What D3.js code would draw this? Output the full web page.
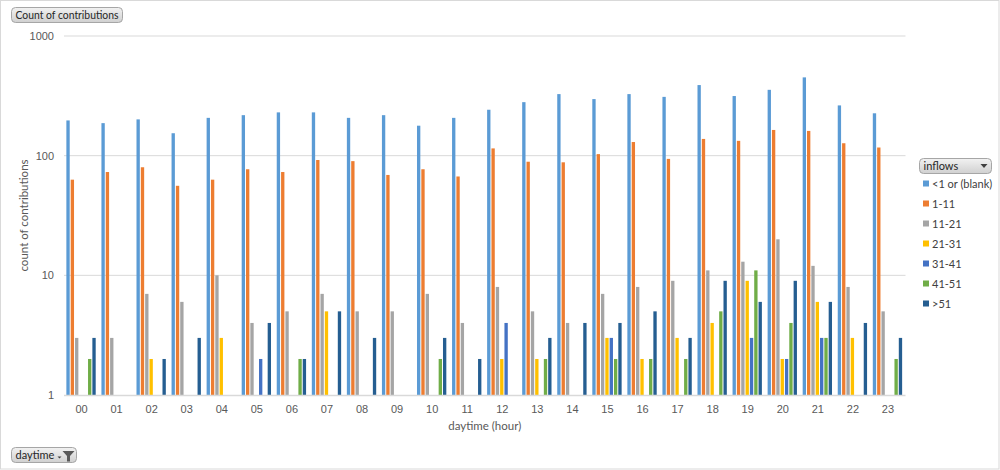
<!DOCTYPE html>
<html>
<head>
<meta charset="utf-8">
<script src="https://cdn.jsdelivr.net/npm/d3@7"></script>
<style>
  body { margin: 0; background: #fff; }
  svg { display: block; font-family: Lato, "Open Sans", sans-serif; }
</style>
</head>
<body>
<div id="chart"></div>
<script>
// categories (hour of day)
const hours = ["00","01","02","03","04","05","06","07","08","09","10","11",
               "12","13","14","15","16","17","18","19","20","21","22","23"];

// series names, one per inflow bucket
const seriesNames = ["<1 or (blank)", "1-11", "11-21", "21-31", "31-41", "41-51", ">51"];
const seriesColors = ["#5b9bd5", "#ed7d31", "#a5a5a5", "#ffc000", "#4472c4", "#70ad47", "#255e91"];

// values (null = no bar)
const lt1   = [197,187,201,154,207,218,230,230,207,218,178,207,242,280,327,297,327,310,389,315,355,451,263,226];
const in1   = [63,73,80,56,63,77,73,92,90,69,77,67,115,89,88,103,130,94,138,133,164,161,127,117];
const in11  = [3,3,7,6,10,4,5,7,5,5,7,4,8,5,4,7,8,9,11,13,20,12,8,5];
const in21  = [null,null,2,null,3,null,null,5,null,null,null,null,2,2,null,3,2,3,4,9,2,6,3,null];
const in31  = [null,null,null,null,null,2,null,null,null,null,null,null,4,null,null,3,null,null,null,3,2,3,null,null];
const in41  = [2,null,null,null,null,null,2,null,null,null,2,null,null,2,null,2,2,2,5,11,4,3,null,2];
const gt51  = [3,null,2,3,null,4,2,5,3,null,3,2,null,3,4,4,5,3,9,6,9,6,4,3];

const seriesValues = [lt1, in1, in11, in21, in31, in41, gt51];
const yTicks = [1, 10, 100, 1000];

const width = 1000, height = 470;
const margin = { top: 36, right: 94.5, bottom: 75, left: 64 };

const svg = d3.select("#chart").append("svg")
  .attr("width", width)
  .attr("height", height);

// outer frame
svg.append("rect")
  .attr("x", 0.5).attr("y", 0.5)
  .attr("width", width - 1.5).attr("height", height - 1.5)
  .attr("fill", "#fff").attr("stroke", "#d9d9d9");

const x0 = d3.scaleBand()
  .domain(hours)
  .range([margin.left, width - margin.right])
  .paddingInner(0.135)
  .paddingOuter(0.0675);

const x1 = d3.scaleBand()
  .domain(d3.range(seriesNames.length))
  .range([0, x0.bandwidth()]);

const y = d3.scaleLog()
  .domain([1, 1000])
  .range([height - margin.bottom, margin.top]);

// gridlines
svg.append("g")
  .selectAll("line")
  .data(yTicks.slice(1))
  .enter().append("line")
    .attr("x1", margin.left)
    .attr("x2", width - margin.right)
    .attr("y1", d => y(d))
    .attr("y2", d => y(d))
    .attr("stroke", "#d9d9d9")
    .attr("stroke-width", 1);

// bars
const groups = svg.append("g")
  .selectAll("g")
  .data(seriesValues)
  .enter().append("g")
    .attr("fill", (d, i) => seriesColors[i]);

groups.each(function(vals, si) {
  d3.select(this).selectAll("rect")
    .data(vals.map((v, hi) => ({ h: hours[hi], v: v })).filter(d => d.v != null && d.v > 1))
    .enter().append("rect")
      .attr("x", d => x0(d.h) + x1(si))
      .attr("y", d => y(d.v))
      .attr("width", x1.bandwidth() - 1)
      .attr("height", d => y(1) - y(d.v));
});

// x axis line
svg.append("line")
  .attr("x1", margin.left)
  .attr("x2", width - margin.right)
  .attr("y1", y(1) + 0.5)
  .attr("y2", y(1) + 0.5)
  .attr("stroke", "#d9d9d9")
  .attr("stroke-width", 1.5);

// x axis
const xAxis = svg.append("g")
  .attr("transform", `translate(0, ${y(1)})`)
  .call(d3.axisBottom(x0).tickSize(0).tickPadding(8));
xAxis.select(".domain").remove();
xAxis.selectAll("text")
  .attr("fill", "#595959")
  .style("font-size", "11px")
  .attr("dy", "0.9em");

// y axis
const yAxis = svg.append("g")
  .attr("transform", `translate(${margin.left}, 0)`)
  .call(d3.axisLeft(y).tickValues(yTicks).tickFormat(d3.format("d")).tickSize(0).tickPadding(10));
yAxis.select(".domain").remove();
yAxis.selectAll("text")
  .attr("fill", "#595959")
  .style("font-size", "11px");

// axis titles
svg.append("text")
  .attr("x", (margin.left + width - margin.right) / 2)
  .attr("y", 430)
  .attr("text-anchor", "middle")
  .attr("fill", "#595959")
  .style("font-size", "11.5px")
  .text("daytime (hour)");

svg.append("text")
  .attr("transform", `translate(28, ${(margin.top + height - margin.bottom) / 2}) rotate(-90)`)
  .attr("text-anchor", "middle")
  .attr("fill", "#595959")
  .style("font-size", "11.5px")
  .text("count of contributions");

// pivot field buttons
const defs = svg.append("defs");
const grad = defs.append("linearGradient")
  .attr("id", "btn").attr("x1", 0).attr("y1", 0).attr("x2", 0).attr("y2", 1);
grad.append("stop").attr("offset", "0%").attr("stop-color", "#f2f2f2");
grad.append("stop").attr("offset", "100%").attr("stop-color", "#d0d0d0");

function button(bx, by, bw, label, maxText) {
  const g = svg.append("g").attr("transform", `translate(${bx}, ${by})`);
  g.append("rect")
    .attr("width", bw).attr("height", 15)
    .attr("rx", 4)
    .attr("fill", "url(#btn)")
    .attr("stroke", "#a6a6a6");
  const t = g.append("text")
    .attr("x", 4).attr("y", 11.5)
    .attr("fill", "#262626")
    .style("font-size", "11px")
    .text(label);
  // squeeze the label if the local font runs wider than the button
  if (maxText && t.node().getComputedTextLength() > maxText) {
    t.attr("textLength", maxText).attr("lengthAdjust", "spacingAndGlyphs");
  }
  return g;
}

button(11.5, 7.5, 111, "Count of contributions", 103);

const dt = button(11.5, 447.5, 65, "daytime");
dt.append("path")
  .attr("d", "M51,3.5 h12 l-4.5,5 v5.5 h-3 v-5.5 z")
  .attr("fill", "#595959");
dt.append("path")
  .attr("d", "M46,9 h4 l-2,2 z")
  .attr("fill", "#404040");

const lg = button(919.5, 158.5, 72, "inflows");
lg.append("path")
  .attr("d", "M61,5.5 h7 l-3.5,4 z")
  .attr("fill", "#404040");

// legend entries
const legend = svg.append("g")
  .selectAll("g")
  .data(seriesNames)
  .enter().append("g")
    .attr("transform", (d, i) => `translate(923, ${183.5 + i * 20})`);

legend.append("rect")
  .attr("x", 0).attr("y", -3)
  .attr("width", 6).attr("height", 6)
  .attr("fill", (d, i) => seriesColors[i]);

legend.append("text")
  .attr("x", 9).attr("y", 4)
  .attr("fill", "#404040")
  .style("font-size", "11px")
  .text(d => d);
</script>
</body>
</html>
